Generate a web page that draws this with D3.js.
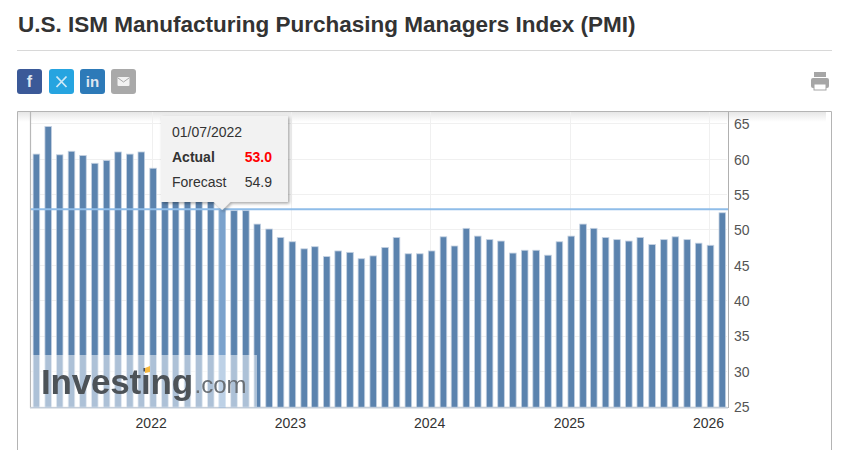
<!DOCTYPE html>
<html lang="en">

<head>
    <meta charset="UTF-8">
    <script src="https://cdn.jsdelivr.net/npm/d3@7"></script>
    <title>U.S. ISM Manufacturing PMI</title>
    <style>
        html, body {
            margin: 0;
            padding: 0;
            background: white;
            overflow: hidden;
        }

        text {
            font-family: "Liberation Sans", Arial, sans-serif;
        }

        .grid line {
            stroke: #f0f0f0;
            stroke-width: 1px;
        }

        .axis path, .axis line {
            display: none;
        }
    </style>
</head>

<body>
    <div class="fig"></div>

    <script>
        const months = [
            "2021-03", "2021-04", "2021-05", "2021-06", "2021-07", "2021-08", "2021-09", "2021-10", "2021-11", "2021-12",
            "2022-01", "2022-02", "2022-03", "2022-04", "2022-05", "2022-06", "2022-07", "2022-08", "2022-09", "2022-10", "2022-11", "2022-12",
            "2023-01", "2023-02", "2023-03", "2023-04", "2023-05", "2023-06", "2023-07", "2023-08", "2023-09", "2023-10", "2023-11", "2023-12",
            "2024-01", "2024-02", "2024-03", "2024-04", "2024-05", "2024-06", "2024-07", "2024-08", "2024-09", "2024-10", "2024-11", "2024-12",
            "2025-01", "2025-02", "2025-03", "2025-04", "2025-05", "2025-06", "2025-07", "2025-08", "2025-09", "2025-10", "2025-11", "2025-12",
            "2026-01", "2026-02"
        ];
        const actual = [
            60.8, 64.7, 60.7, 61.2, 60.6, 59.5, 59.9, 61.1, 60.8, 61.1,
            58.8, 57.6, 58.6, 57.1, 55.4, 56.1, 53.0, 52.8, 52.8, 50.9, 50.2, 49.0,
            48.4, 47.4, 47.7, 46.3, 47.1, 46.9, 46.0, 46.4, 47.6, 49.0, 46.7, 46.7,
            47.1, 49.1, 47.8, 50.3, 49.2, 48.7, 48.5, 46.8, 47.2, 47.2, 46.5, 48.4,
            49.2, 50.9, 50.3, 49.0, 48.7, 48.5, 49.0, 48.0, 48.7, 49.1, 48.7, 48.2,
            47.9, 52.5
        ];
        const yTicks = [25, 30, 35, 40, 45, 50, 55, 60, 65];
        const yearTicks = ["2022", "2023", "2024", "2025", "2026"];
        const hoverMonth = "2022-07";
        const hoverDate = "01/07/2022";
        const hoverForecast = "54.9";
        const title = "U.S. ISM Manufacturing Purchasing Managers Index (PMI)";

        const parseMonth = d3.utcParse("%Y-%m");
        const parseYear = d3.utcParse("%Y");

        const svg = d3.select(".fig").append("svg")
            .attr("width", 842)
            .attr("height", 450)
            .style("display", "block");

        const defs = svg.append("defs");
        const topShade = defs.append("linearGradient")
            .attr("id", "topShade")
            .attr("x1", 0).attr("x2", 0).attr("y1", 0).attr("y2", 1);
        topShade.append("stop").attr("offset", 0).attr("stop-color", "#e6e6e6");
        topShade.append("stop").attr("offset", 1).attr("stop-color", "#ffffff");
        const tipShadow = defs.append("filter")
            .attr("id", "tipShadow")
            .attr("x", "-10%").attr("y", "-10%").attr("width", "125%").attr("height", "125%");
        tipShadow.append("feDropShadow")
            .attr("dx", 1.5).attr("dy", 1.5).attr("stdDeviation", 1.5)
            .attr("flood-color", "#000").attr("flood-opacity", 0.35);
        const blur = defs.append("filter").attr("id", "soft");
        blur.append("feGaussianBlur").attr("stdDeviation", 0.5);

        // page header
        svg.append("text")
            .attr("x", 18).attr("y", 32)
            .attr("font-size", 22.5).attr("font-weight", "bold")
            .attr("fill", "#333")
            .text(title);
        svg.append("line")
            .attr("x1", 17).attr("x2", 832).attr("y1", 50.5).attr("y2", 50.5)
            .attr("stroke", "#d8d8d8");

        // share buttons
        const shareBtn = (x, color, label, size) => {
            const g = svg.append("g").attr("transform", `translate(${x},69)`);
            g.append("rect").attr("width", 25).attr("height", 25).attr("rx", 3).attr("fill", color);
            if (label) {
                g.append("text")
                    .attr("x", 12.5).attr("y", 18)
                    .attr("text-anchor", "middle")
                    .attr("font-size", size).attr("font-weight", "bold")
                    .attr("fill", "#dfe6f0")
                    .text(label);
            }
            return g;
        };
        shareBtn(17, "#3b5998", "f", 16);
        const twitter = shareBtn(49, "#26a4e0");
        twitter.append("path")
            .attr("d", "M7.5 7.5L17.5 18M17.5 7.5L7.5 18")
            .attr("fill", "none").attr("stroke", "#cfe9f7").attr("stroke-width", 1.8);
        shareBtn(80, "#2d7ab8", "in", 15);
        const mail = shareBtn(111, "#a9a9a9");
        mail.append("rect").attr("x", 6.5).attr("y", 8).attr("width", 12).attr("height", 9).attr("rx", 1).attr("fill", "#f2f2f2");
        mail.append("path").attr("d", "M7 9 L12.5 13 L18 9").attr("fill", "none").attr("stroke", "#a9a9a9");

        // printer icon
        const printer = svg.append("g").attr("transform", "translate(811,72)").attr("fill", "#a6a6a6");
        printer.append("path").attr("d", "M3 0H15V5H3Z");
        printer.append("rect").attr("x", 0).attr("y", 6).attr("width", 18).attr("height", 10).attr("rx", 2);
        printer.append("rect").attr("x", 3).attr("y", 12).attr("width", 12).attr("height", 6).attr("fill", "#fff").attr("stroke", "#a6a6a6");

        // chart frame
        svg.append("rect")
            .attr("x", 18).attr("y", 112).attr("width", 808).attr("height", 10)
            .attr("fill", "url(#topShade)");
        svg.append("path")
            .attr("d", "M17.5 450V111.5H831.5V450")
            .attr("fill", "none").attr("stroke", "#b4b4b4");

        const x = d3.scaleUtc()
            .domain([parseMonth("2021-03"), parseMonth("2026-02")])
            .range([36.4, 722.3]);
        const y = d3.scaleLinear()
            .domain([25, 65])
            .range([407.2, 124.4]);

        const yearDates = yearTicks.map(d => parseYear(d));

        // grid
        svg.append("g").attr("class", "grid")
            .selectAll("line.h")
            .data(yTicks)
            .enter()
            .append("line")
            .attr("x1", 31).attr("x2", 727)
            .attr("y1", d => Math.round(y(d)) - 0.5)
            .attr("y2", d => Math.round(y(d)) - 0.5);
        svg.append("g").attr("class", "grid")
            .selectAll("line.v")
            .data(yearDates)
            .enter()
            .append("line")
            .attr("y1", 112).attr("y2", 407)
            .attr("x1", d => Math.round(x(d) - 1.5) + 0.5)
            .attr("x2", d => Math.round(x(d) - 1.5) + 0.5);

        // plot border
        svg.append("line")
            .attr("x1", 30.5).attr("x2", 30.5).attr("y1", 112).attr("y2", 408)
            .attr("stroke", "#b8b8b8").attr("stroke-width", 1.2);
        svg.append("line")
            .attr("x1", 30).attr("x2", 728).attr("y1", 407.8).attr("y2", 407.8)
            .attr("stroke", "#c6ced8").attr("stroke-width", 1.5);
        svg.append("line")
            .attr("x1", 728.5).attr("x2", 728.5).attr("y1", 112).attr("y2", 408)
            .attr("stroke", "#b0b0b0");

        // bars
        const bars = months.map((m, i) => ({ month: m, value: actual[i] }));
        const barW = 6.6;
        svg.append("g")
            .selectAll("rect")
            .data(bars)
            .enter()
            .append("rect")
            .attr("x", d => x(parseMonth(d.month)) - barW / 2)
            .attr("y", d => y(d.value))
            .attr("width", barW)
            .attr("height", d => y.range()[0] - y(d.value))
            .attr("fill", d => d.month === hoverMonth ? "#7ba2cc" : "#5b83ae")
            .attr("stroke", d => d.month === hoverMonth ? "#a9c4e0" : "#c5d2e2")
            .attr("stroke-width", 0.8);

        // axes
        svg.append("g").attr("class", "axis")
            .attr("transform", "translate(727,0)")
            .call(d3.axisRight(y).tickValues(yTicks).tickSize(0).tickPadding(7))
            .call(g => g.selectAll("text")
                .attr("font-size", 14).attr("fill", "#555")
                .style("font-family", "Liberation Sans"));
        svg.append("g").attr("class", "axis")
            .attr("transform", "translate(0,418)")
            .call(d3.axisBottom(x).tickValues(yearDates).tickFormat(d3.utcFormat("%Y")).tickSize(0).tickPadding(0))
            .call(g => g.selectAll("text")
                .attr("font-size", 14).attr("fill", "#333")
                .attr("dx", -2.5).attr("dy", "0.71em")
                .style("font-family", "Liberation Sans"));

        // crosshair at the hovered value
        const hoverValue = actual[months.indexOf(hoverMonth)];
        svg.append("line")
            .attr("x1", 31).attr("x2", 728)
            .attr("y1", y(hoverValue)).attr("y2", y(hoverValue))
            .attr("stroke", "#8fbde9").attr("stroke-width", 2);

        // watermark
        svg.append("rect")
            .attr("x", 31).attr("y", 355).attr("width", 226).attr("height", 52)
            .attr("fill", "#fff").attr("fill-opacity", 0.5);
        const mark = svg.append("g").attr("filter", "url(#soft)");
        mark.append("text")
            .attr("x", 41).attr("y", 393.5)
            .attr("font-size", 35).attr("font-weight", "bold")
            .attr("fill", "#4d5258").attr("letter-spacing", -0.2)
            .text("Investing");
        mark.append("text")
            .attr("x", 194.5).attr("y", 393)
            .attr("font-size", 24)
            .attr("fill", "#6a6f75")
            .text(".com");
        mark.append("path")
            .attr("d", "M145 368L150 366V372L145 373Z")
            .attr("fill", "#f5b840");

        // tooltip
        const tipX = x(parseMonth(hoverMonth));
        const tip = svg.append("g");
        tip.append("path")
            .attr("d", `M161 116H288V202H${tipX + 8}L${tipX} 210L${tipX - 8} 202H161Z`)
            .attr("fill", "#f2f2f2")
            .attr("filter", "url(#tipShadow)");
        tip.append("text")
            .attr("x", 172).attr("y", 137)
            .attr("font-size", 14).attr("fill", "#333")
            .text(hoverDate);
        tip.append("text")
            .attr("x", 172).attr("y", 162)
            .attr("font-size", 14).attr("font-weight", "bold").attr("fill", "#333")
            .text("Actual");
        tip.append("text")
            .attr("x", 272).attr("y", 162)
            .attr("text-anchor", "end")
            .attr("font-size", 14).attr("font-weight", "bold").attr("fill", "#f00")
            .text(hoverValue.toFixed(1));
        tip.append("text")
            .attr("x", 172).attr("y", 187)
            .attr("font-size", 14).attr("fill", "#333")
            .text("Forecast");
        tip.append("text")
            .attr("x", 272).attr("y", 187)
            .attr("text-anchor", "end")
            .attr("font-size", 14).attr("fill", "#333")
            .text(hoverForecast);
    </script>
</body>

</html>
